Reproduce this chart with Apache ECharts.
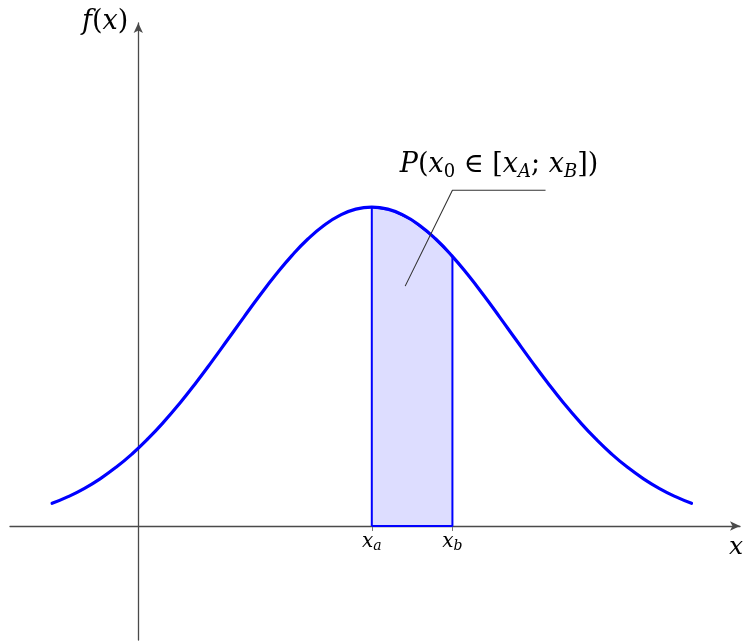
<!DOCTYPE html>
<html>
<head>
<meta charset="utf-8">
<script src="https://cdn.jsdelivr.net/npm/echarts@6/dist/echarts.min.js"></script>
<style>
  html, body { margin: 0; padding: 0; background: #fff; }
  #chart { width: 745px; height: 643px; }
</style>
</head>
<body>
<div id="chart"></div>
<script>
// Normal density curve f(x), sampled points (x, f(x))
const curveX = [-0.62, -0.505, -0.39, -0.275, -0.16, -0.045, 0.07, 0.185, 0.30, 0.415,
                0.53, 0.645, 0.76, 0.875, 0.99, 1.105, 1.22, 1.335, 1.45, 1.565,
                1.68,
                1.795, 1.91, 2.025, 2.14, 2.255, 2.37, 2.485, 2.60, 2.715, 2.83,
                2.945, 3.06, 3.175, 3.29, 3.405, 3.52, 3.635, 3.75, 3.865, 3.98];
const curveY = [0.0283, 0.0367, 0.0468, 0.0590, 0.0734, 0.0901, 0.1092, 0.1305, 0.1539, 0.1792,
                0.2059, 0.2335, 0.2613, 0.2885, 0.3144, 0.3382, 0.3589, 0.3759, 0.3885, 0.3963,
                0.3989,
                0.3963, 0.3885, 0.3759, 0.3589, 0.3382, 0.3144, 0.2885, 0.2613, 0.2335, 0.2059,
                0.1792, 0.1539, 0.1305, 0.1092, 0.0901, 0.0734, 0.0590, 0.0468, 0.0367, 0.0283];

// Interval [x_a; x_b] and the curve over it
const xa = 1.68;
const xb = 2.26;
const bandX = [1.68, 1.825, 1.97, 2.115, 2.26];
const bandY = [0.3989, 0.3948, 0.3825, 0.3629, 0.3372];

// Tick labels on the x axis
const tickValues = [xa, xb];
const tickNames = ['a', 'b'];

// Leader line for the probability annotation
const leaderX = [1.92, 2.26, 2.93];
const leaderY = [0.300, 0.420, 0.420];
const annotationAt = [2.595, 0.420];

const curveData = curveX.map((x, i) => [x, curveY[i]]);
const bandData = [[xa, 0]]
  .concat(bandX.map((x, i) => [x, bandY[i]]))
  .concat([[xb, 0], [xa, 0]]);
const leaderData = leaderX.map((x, i) => [x, leaderY[i]]);
const tickLabelData = tickValues.map((v, i) => ({ value: [v, 0], name: tickNames[i] }));

const mathFont = 'DejaVu Serif';
const INK = '#000000';
const BLUE = '#0000ff';
const AXIS = '#4a4a4a';

const chart = echarts.init(document.getElementById('chart'), null, { renderer: 'canvas' });

chart.setOption({
  animation: false,
  backgroundColor: '#ffffff',
  grid: { left: 10, right: 5, top: 23, bottom: 3, containLabel: false, outerBoundsMode: 'none' },
  xAxis: {
    type: 'value',
    min: -0.923,
    max: 4.329,
    splitLine: { show: false },
    axisLine: {
      onZero: true,
      symbol: ['none', 'arrow'],
      symbolSize: [7, 10],
      lineStyle: { color: AXIS, width: 1.3 }
    },
    axisTick: {
      show: true,
      customValues: tickValues,
      length: 5,
      lineStyle: { color: '#777', width: 1 }
    },
    axisLabel: { show: false },
    name: 'x',
    nameLocation: 'end',
    nameGap: -11,
    nameTextStyle: {
      fontFamily: mathFont, fontStyle: 'italic', fontSize: 25, color: INK, lineHeight: 28,
      align: 'left', verticalAlign: 'top', padding: [8, 0, 0, 0]
    }
  },
  yAxis: {
    type: 'value',
    min: -0.1426,
    max: 0.6291,
    splitLine: { show: false },
    axisTick: { show: false },
    axisLabel: { show: false },
    axisLine: {
      onZero: true,
      symbol: ['none', 'arrow'],
      symbolSize: [7, 10],
      lineStyle: { color: AXIS, width: 1.3 }
    },
    name: '{i|f}{n|(}{i|x}{n|)}',
    nameLocation: 'end',
    nameGap: 1,
    nameTextStyle: {
      align: 'right', verticalAlign: 'middle', padding: [0, 10, 0, 0],
      rich: {
        i: { fontFamily: mathFont, fontStyle: 'italic', fontSize: 27, color: INK, lineHeight: 30 },
        n: { fontFamily: mathFont, fontSize: 27, color: INK, lineHeight: 30 }
      }
    }
  },
  series: [
    {
      name: 'interval',
      type: 'line',
      data: bandData,
      symbol: 'none',
      z: 2,
      lineStyle: { color: BLUE, width: 2 },
      areaStyle: { color: 'rgba(0,0,255,0.19)', origin: 0 }
    },
    {
      name: 'density',
      type: 'line',
      data: curveData,
      smooth: true,
      symbol: 'none',
      z: 3,
      lineStyle: { color: BLUE, width: 3.2, cap: 'round' }
    },
    {
      name: 'leader',
      type: 'line',
      data: leaderData,
      symbol: 'none',
      z: 4,
      lineStyle: { color: '#333', width: 1.1 }
    },
    {
      name: 'ticklabels',
      type: 'scatter',
      data: tickLabelData,
      symbolSize: 0,
      z: 5,
      itemStyle: { opacity: 1 },
      label: {
        show: true,
        position: 'bottom',
        distance: 5,
        color: INK,
        formatter: function (p) { return '{i|x}{s|' + p.name + '}'; },
        rich: {
          i: { fontFamily: mathFont, fontStyle: 'italic', fontSize: 20, color: INK, lineHeight: 22, verticalAlign: 'middle' },
          s: { fontFamily: mathFont, fontStyle: 'italic', fontSize: 14, color: INK, lineHeight: 14, verticalAlign: 'bottom' }
        }
      }
    },
    {
      name: 'annotation',
      type: 'scatter',
      data: [annotationAt],
      symbolSize: 0,
      z: 5,
      itemStyle: { opacity: 1 },
      label: {
        show: true,
        position: 'top',
        distance: 9,
        color: INK,
        formatter: '{i|P}{n|(}{i|x}{s|0}{n| ∈ [}{i|x}{si|A}{n|; }{i|x}{si|B}{n|])}',
        rich: {
          i: { fontFamily: mathFont, fontStyle: 'italic', fontSize: 27, color: INK, lineHeight: 32, verticalAlign: 'middle' },
          n: { fontFamily: mathFont, fontSize: 27, color: INK, lineHeight: 32, verticalAlign: 'middle' },
          s: { fontFamily: mathFont, fontSize: 18, color: INK, lineHeight: 18, verticalAlign: 'bottom' },
          si: { fontFamily: mathFont, fontStyle: 'italic', fontSize: 18, color: INK, lineHeight: 18, verticalAlign: 'bottom' }
        }
      }
    }
  ]
});
</script>
</body>
</html>
